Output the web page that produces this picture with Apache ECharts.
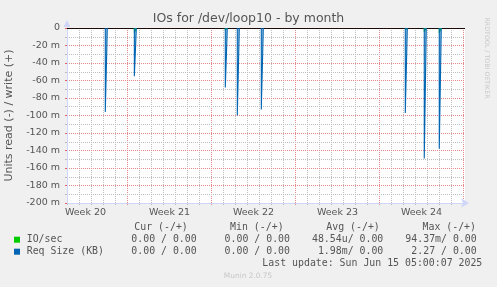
<!DOCTYPE html>
<html><head><meta charset="utf-8">
<script src="https://cdn.jsdelivr.net/npm/echarts@6/dist/echarts.min.js"></script>
<style>html,body{margin:0;padding:0;background:#F0F0F0;}#c{width:497px;height:287px;}</style>
</head><body><div id="c"></div>
<script>
// ---- data ----
const weekLabels = ['Week 20', 'Week 21', 'Week 22', 'Week 23', 'Week 24'];
const weekStarts = [-7, 0, 7, 14, 21];           // days, relative to start of Week 21
const rangeDays = [-5.0417, 28.125];              // visible time window (days)
const yTickValues = [0, -20, -40, -60, -80, -100, -120, -140, -160, -180, -200];
const spikeDays = [-1.85, 0.57, 8.15, 9.15, 11.15, 23.15, 24.73, 25.98];
const reqSizeRead = [-96, -55, -68, -100, -93, -97, -149, -138];   // milli
const ioSecRead = [0, -5.5, -2.5, 0, 0, -2, -4.5, -5.5];            // milli
const sampleDays = 1 / 6;
const legendNames = ['IO/sec', 'Req Size (KB)'];
const legendColors = ['#00cc00', '#0066b3'];
const colHeaders = ['Cur (-/+)', 'Min (-/+)', 'Avg (-/+)', 'Max (-/+)'];
const curVals = ['0.00 / 0.00', '0.00 / 0.00'];
const minVals = ['0.00 / 0.00', '0.00 / 0.00'];
const avgVals = ['48.54u/ 0.00', '1.98m/ 0.00'];
const maxVals = ['94.37m/ 0.00', '2.27 / 0.00'];
const lastUpdate = 'Last update: Sun Jun 15 05:00:07 2025';

// ---- build ----
function spikeSeries(vals) {
  const out = [];
  spikeDays.forEach((d, i) => {
    const v = vals[i];
    if (!v) return;
    out.push([d, 0], [d, v], [d + sampleDays, v], [d + sampleDays, 0], [d + sampleDays, '-']);
  });
  return out;
}
const yMin = yTickValues[yTickValues.length - 1], yMax = yTickValues[0];
const weekLines = weekStarts.concat([weekStarts[weekStarts.length - 1] + 7]).filter(d => d >= rangeDays[0] && d <= rangeDays[1]);
const dayTicks = [];
for (let d = Math.ceil(rangeDays[0]); d <= rangeDays[1]; d++) if (weekLines.indexOf(d) < 0) dayTicks.push(d);
const weekCenters = weekStarts.map(d => d + 3.5);

const GRAY = '#bdbdbd';
const RED = '#e48a8a';
const AXIS = '#CFD6F8';
const DASH = [1, 1];
const mono = '"DejaVu Sans Mono", monospace';
const sans = '"DejaVu Sans", sans-serif';
const txt = '#555';
const G = {left: 67, top: 28, width: 398, height: 175};

const graphics = [];
// white plotting canvas, behind everything
graphics.push({type: 'rect', id: 'canvas', z: -100, silent: true, shape: {x: G.left, y: G.top, width: G.width, height: G.height}, style: {fill: '#fff'}});
const colRight = [196.7, 290, 383.3, 476.7];
const headRight = [187.8, 283.6, 379.8, 476];
colHeaders.forEach((h, i) => graphics.push({type: 'text', x: headRight[i], y: 227.5,
  style: {text: h, font: '9.9px ' + mono, fill: txt, align: 'right', verticalAlign: 'middle'}}));
const rowY = [239.7, 251.7];
legendNames.forEach((n, r) => {
  graphics.push({type: 'rect', shape: {x: 14, y: rowY[r] - 3, width: 6, height: 6}, style: {fill: legendColors[r]}});
  graphics.push({type: 'text', x: 26.7, y: rowY[r], style: {text: n, font: '9.9px ' + mono, fill: txt, verticalAlign: 'middle'}});
  [curVals, minVals, avgVals, maxVals].forEach((arr, c) => graphics.push({type: 'text', x: colRight[c], y: rowY[r],
    style: {text: arr[r], font: '9.9px ' + mono, fill: txt, align: 'right', verticalAlign: 'middle'}}));
});
graphics.push({type: 'text', x: 482.3, y: 263.7, style: {text: lastUpdate, font: '9.9px ' + mono, fill: txt, align: 'right', verticalAlign: 'middle'}});
graphics.push({type: 'text', x: 248, y: 276, style: {text: 'Munin 2.0.75', font: '7.4px ' + sans, fill: '#c8c8c8', align: 'center', verticalAlign: 'middle'}});
graphics.push({type: 'text', x: 487, y: 58, rotation: -Math.PI / 2, style: {text: 'RRDTOOL / TOBI OETIKER', font: '6.3px ' + sans, fill: '#c8c8c8', align: 'center', verticalAlign: 'middle'}});
// y-axis arrow head (axis decoration)
graphics.push({type: 'polygon', shape: {points: [[67, 20], [63.5, 27], [70.5, 27]]}, style: {fill: AXIS}, z: 10});

const chart = echarts.init(document.getElementById('c'), null, {renderer: 'canvas'});
chart.setOption({
  backgroundColor: '#F0F0F0',
  animation: false,
  title: {text: 'IOs for /dev/loop10 - by month', left: 'center', top: 12, padding: 0,
    textStyle: {fontFamily: sans, fontSize: 12.5, fontWeight: 'normal', color: '#555'}},
  grid: Object.assign({show: false, outerBoundsMode: 'none', containLabel: false}, G),
  xAxis: {
    type: 'value', min: rangeDays[0], max: rangeDays[1], position: 'bottom',
    axisLine: {show: true, onZero: false, lineStyle: {color: AXIS, width: 1}, symbol: ['none', 'arrow'], symbolSize: [7, 8], symbolOffset: [0, 4]},
    axisTick: {show: false},
    splitLine: {show: false},
    axisLabel: {show: true, customValues: weekCenters, margin: 5, fontFamily: sans, fontSize: 9.5, color: txt,
      formatter: v => weekLabels[weekCenters.indexOf(v)] || ''}
  },
  yAxis: {
    type: 'value', min: yMin, max: yMax, interval: 20,
    name: 'Units read (-) / write (+)', nameLocation: 'middle', nameGap: 52, nameRotate: 90,
    nameTextStyle: {fontFamily: sans, fontSize: 11, color: txt},
    axisLine: {show: true, onZero: false, lineStyle: {color: AXIS, width: 1}},
    axisTick: {show: true, length: 2, lineStyle: {color: '#e06060'}},
    minorTick: {show: true, splitNumber: 2, length: 2, lineStyle: {color: '#bbb'}},
    splitLine: {show: true, lineStyle: {color: RED, width: 1, type: DASH}},
    minorSplitLine: {show: true, lineStyle: {color: GRAY, width: 1, type: DASH}},
    axisLabel: {margin: 7, fontFamily: sans, fontSize: 9.5, color: txt, showMinLabel: true, showMaxLabel: true,
      formatter: v => v === 0 ? '0' : v + ' m'}
  },
  series: [
    {name: legendNames[0], type: 'line', data: spikeSeries(ioSecRead), showSymbol: false, symbol: 'none',
      lineStyle: {color: legendColors[0], width: 1}, areaStyle: {color: legendColors[0], opacity: 1}, z: 6},
    {name: legendNames[1], type: 'line', data: spikeSeries(reqSizeRead), showSymbol: false, symbol: 'none',
      lineStyle: {color: legendColors[1], width: 1.1}, areaStyle: {color: 'rgba(0,102,179,0.6)'}, z: 7,
      markLine: {silent: true, symbol: 'none', label: {show: false}, lineStyle: {color: '#1a0a0a', width: 1, type: 'solid'},
        data: [{yAxis: 0}]}}
  ],
  graphic: graphics
});

// vertical day / week grid lines, positioned through the x axis scale
const yTop = chart.convertToPixel({yAxisIndex: 0}, yMax);
const yBot = chart.convertToPixel({yAxisIndex: 0}, yMin);
const vGrid = [];
function addV(d, color, i) {
  const px = Math.round(chart.convertToPixel({xAxisIndex: 0}, d) - 0.5) + 0.5;
  vGrid.push({type: 'line', z: -50, silent: true,
    shape: {x1: px, y1: yTop, x2: px, y2: yBot + 2},
    style: {stroke: color, lineWidth: 1, lineDash: DASH}});
}
dayTicks.forEach(d => addV(d, GRAY));
weekLines.forEach(d => addV(d, RED));
chart.setOption({graphic: graphics.concat(vGrid)});
</script></body></html>
